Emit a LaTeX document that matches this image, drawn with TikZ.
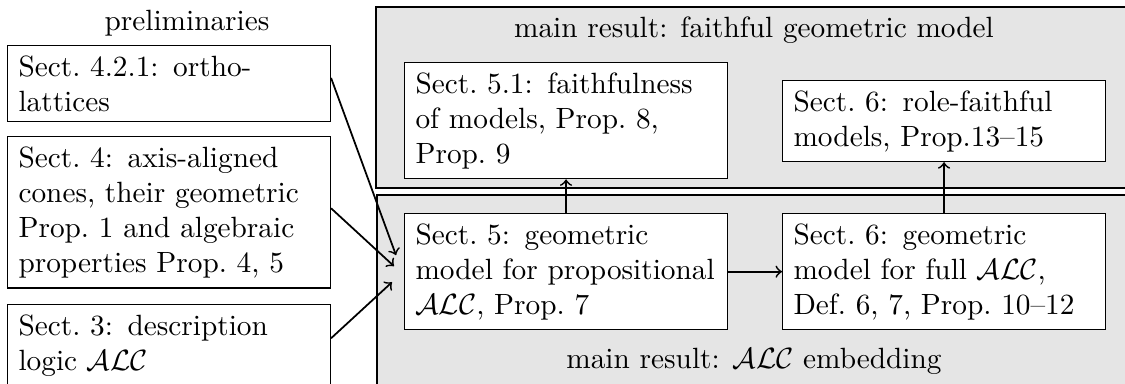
\documentclass[tikz,border=0pt]{standalone}
\usetikzlibrary{calc}
\begin{document}
\begin{tikzpicture}[x=0.3413pt,y=-0.3413pt,
  secbox/.style={draw,fill=white,text width=102.7pt,align=left,inner xsep=3.75pt,inner ysep=3.33pt,anchor=north west},
  grp/.style={draw,fill=gray!20},
  conn/.style={->,semithick}]
\useasboundingbox (0,0) rectangle (1125,383);
\clip (0,0) rectangle (1125,383);
% group areas
\draw[grp] (376,7) rectangle (1140,188);
\draw[grp] (377,195) rectangle (1140,400);
% labels
\node[anchor=base] (lpre) at (187,30) {preliminaries};
\node[anchor=base] (lfaith) at (754,37) {main result: faithful geometric model};
\node[anchor=base] (lemb) at (754,368) {main result: $\mathcal{ALC}$ embedding};
% left boxes
\node[secbox] (n421) at (7,45) {Sect.\ 4.2.1: ortho-\\lattices};
\node[secbox] (n4) at (7,136) {Sect.\ 4: axis-aligned\\cones, their geometric\\Prop.\ 1 and algebraic\\properties Prop.\ 4, 5};
\node[secbox] (n3) at (7,304) {Sect.\ 3: description\\logic $\mathcal{ALC}$};
% right boxes
\node[secbox] (n51) at (404,62) {Sect.\ 5.1: faithfulness\\of models, Prop.\ 8,\\Prop.\ 9};
\node[secbox] (n6r) at (782,80) {Sect.\ 6: role-faithful\\models, Prop.13--15};
\node[secbox] (n5) at (404,213) {Sect.\ 5: geometric\\model for propositional\\$\mathcal{ALC}$, Prop.\ 7};
\node[secbox] (n6) at (782,213) {Sect.\ 6: geometric\\model for full $\mathcal{ALC}$,\\Def.\ 6, 7, Prop.\ 10--12};
% connectors
\draw[conn] ($(n421.east)+(0,-5.5)$) -- ($(n5.west)+(-8,-16.5)$);
\draw[conn] ($(n4.east)+(0,-4)$) -- ($(n5.west)+(-10,-5.5)$);
\draw[conn] ($(n3.east)+(0,-7)$) -- ($(n5.west)+(-12,10.5)$);
\draw[conn] (n5) -- (n6);
\draw[conn] (n5) -- (n51);
\draw[conn] (n6) -- (n6r);
\end{tikzpicture}
\end{document}
